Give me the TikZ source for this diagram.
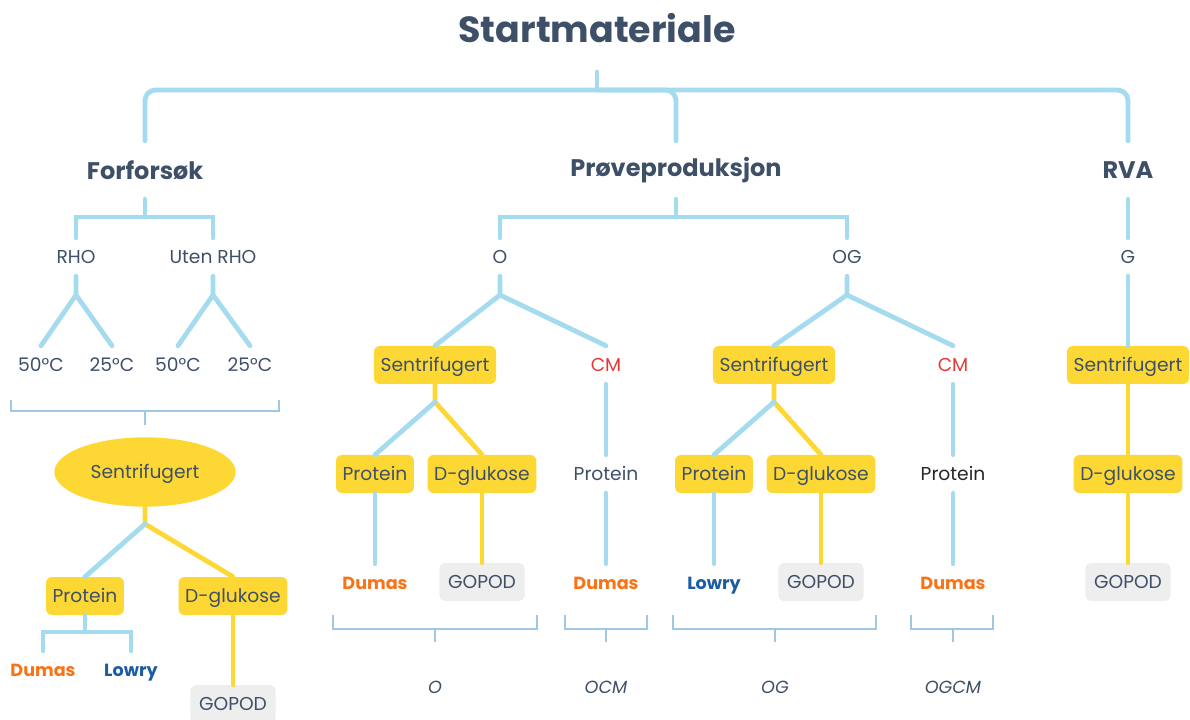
\documentclass[tikz,border=0pt]{standalone}
\usepackage{fontspec}
\setmainfont{Poppins}
\usepackage{tikz}
\usetikzlibrary{positioning,shapes.geometric}

\definecolor{inkslate}{RGB}{62, 80, 104}
\definecolor{lineblue}{RGB}{164, 219, 239}
\definecolor{brkblue}{RGB}{158, 200, 230}
\definecolor{boxyellow}{RGB}{253, 216, 53}
\definecolor{boxgray}{RGB}{238, 238, 238}
\definecolor{dumasorange}{RGB}{249, 115, 22}
\definecolor{lowryblue}{RGB}{28, 92, 160}
\definecolor{cmred}{RGB}{229, 57, 53}

\begin{document}
\begin{tikzpicture}[x=0.75pt, y=-0.75pt,
    txt/.style={font=\fontsize{14}{16}\selectfont, text=inkslate, text height=9.8pt, text depth=0pt},
    lbl/.style={txt, inner sep=0pt, minimum height=28.5pt},
    ybox/.style={txt, fill=boxyellow, rounded corners=4.5pt, inner xsep=5pt, inner ysep=0pt, minimum height=28.5pt},
    gbox/.style={ybox, fill=boxgray, inner xsep=6.5pt},
    head/.style={font=\bfseries\fontsize{18}{21}\selectfont, text=inkslate, inner sep=0pt, minimum height=43.5pt},
    meth/.style={lbl, font=\bfseries\fontsize{13.2}{15}\selectfont},
    grp/.style={lbl, font=\itshape\fontsize{13.2}{15}\selectfont},
    bline/.style={draw=lineblue, line width=3.6pt, line cap=round},
    yline/.style={draw=boxyellow, line width=3.6pt, line cap=round},
    brk/.style={draw=brkblue, line width=1.5pt}]
  \useasboundingbox (0,0) rectangle (1190,720);

  % top level
  \node[font=\bfseries\fontsize{27.3}{32}\selectfont, text=inkslate] (title) at (597,28) {Startmateriale};
  \node[head] (forf) at (145,170) {Forforsøk};
  \node[head] (prove) at (676,170) {Prøveproduksjon};
  \node[head] (rva) at (1128,170) {RVA};
  \coordinate (ts) at (597,72);
  \coordinate (tj) at (597,90);
  \draw[bline] (ts) -- (tj);
  \draw[bline, rounded corners=8pt] (forf.north) |- (tj) -| (rva.north);
  \draw[bline, rounded corners=8pt] (tj) -| (prove.north);

  % Forforsøk
  \node[lbl] (rho) at (76,257) {RHO};
  \node[lbl] (uten) at (213,257) {Uten RHO};
  \coordinate (fj) at (145,217);
  \draw[bline] (forf.south) -- (fj);
  \draw[bline] (rho.north) |- (fj) -| (uten.north);
  \node[lbl] (r50) at (41,365) {50°C};
  \node[lbl] (r25) at (112,365) {25°C};
  \node[lbl] (u50) at (178,365) {50°C};
  \node[lbl] (u25) at (250,365) {25°C};
  \coordinate (rj) at (76,295);
  \coordinate (uj) at (213,295);
  \draw[bline] (rho.south) -- (rj) -- (r50.north);
  \draw[bline] (rj) -- (r25.north);
  \draw[bline] (uten.south) -- (uj) -- (u50.north);
  \draw[bline] (uj) -- (u25.north);
  \draw[brk] (11,400) |- (279,411) -- (279,400);
  \draw[brk] (145,411) -- (145,425);
  \node[txt, ellipse, fill=boxyellow, minimum width=136pt, minimum height=52pt, inner sep=0pt] (lsent) at (145,472) {Sentrifugert};
  \node[ybox] (lprot) at (85,596) {Protein};
  \node[ybox] (lglu) at (233,596) {D-glukose};
  \coordinate (lj) at (145,524);
  \draw[yline] (lsent.south) -- (lj) -- (lglu.north);
  \draw[bline] (lj) -- (lprot.north);
  \node[meth, text=dumasorange] (ldum) at (43,670) {Dumas};
  \node[meth, text=lowryblue] (llow) at (131,670) {Lowry};
  \coordinate (lpj) at (85,632);
  \draw[bline] (lprot.south) -- (lpj);
  \draw[bline] (ldum.north) |- (lpj) -| (llow.north);
  \node[gbox] (lgop) at (233,704) {GOPOD};
  \draw[yline] (lglu.south) -- (lgop.north);

  % Prøveproduksjon
  \node[lbl] (o) at (500,257) {O};
  \node[lbl] (og) at (847,257) {OG};
  \coordinate (pj) at (676,217);
  \draw[bline] (prove.south) -- (pj);
  \draw[bline] (o.north) |- (pj) -| (og.north);

  % O
  \node[ybox] (osent) at (435,365) {Sentrifugert};
  \node[lbl, text=cmred] (ocm) at (606,365) {CM};
  \coordinate (oj) at (500,295);
  \draw[bline] (o.south) -- (oj) -- (osent.north);
  \draw[bline] (oj) -- (ocm.north);
  \node[ybox] (oprot) at (375,474) {Protein};
  \node[ybox] (oglu) at (482,474) {D-glukose};
  \coordinate (osj) at (435,402);
  \draw[yline] (osent.south) -- (osj) -- (oglu.north);
  \draw[bline] (osj) -- (oprot.north);
  \node[meth, text=dumasorange] (odum) at (375,583) {Dumas};
  \node[gbox] (ogop) at (482,582) {GOPOD};
  \draw[bline] (oprot.south) -- (odum.north);
  \draw[yline] (oglu.south) -- (ogop.north);
  \node[lbl] (ocmprot) at (606,474) {Protein};
  \node[meth, text=dumasorange] (ocmdum) at (606,583) {Dumas};
  \draw[bline] (ocm.south) -- (ocmprot.north);
  \draw[bline] (ocmprot.south) -- (ocmdum.north);

  % OG
  \node[ybox] (gsent) at (774,365) {Sentrifugert};
  \node[lbl, text=cmred] (gcm) at (953,365) {CM};
  \coordinate (gj) at (847,295);
  \draw[bline] (og.south) -- (gj) -- (gsent.north);
  \draw[bline] (gj) -- (gcm.north);
  \node[ybox] (gprot) at (714,474) {Protein};
  \node[ybox] (gglu) at (821,474) {D-glukose};
  \coordinate (gsj) at (774,402);
  \draw[yline] (gsent.south) -- (gsj) -- (gglu.north);
  \draw[bline] (gsj) -- (gprot.north);
  \node[meth, text=lowryblue] (glow) at (714,583) {Lowry};
  \node[gbox] (ggop) at (821,582) {GOPOD};
  \draw[bline] (gprot.south) -- (glow.north);
  \draw[yline] (gglu.south) -- (ggop.north);
  \node[lbl, text=black!85] (gcmprot) at (953,474) {Protein};
  \node[meth, text=dumasorange] (gcmdum) at (953,583) {Dumas};
  \draw[bline] (gcm.south) -- (gcmprot.north);
  \draw[bline] (gcmprot.south) -- (gcmdum.north);

  % RVA
  \node[lbl] (g) at (1128,257) {G};
  \node[ybox] (rsent) at (1128,365) {Sentrifugert};
  \node[ybox] (rglu) at (1128,474) {D-glukose};
  \node[gbox] (rgop) at (1128,582) {GOPOD};
  \draw[bline] (rva.south) -- (g.north);
  \draw[bline] (g.south) -- (rsent.north);
  \draw[yline] (rsent.south) -- (rglu.north);
  \draw[yline] (rglu.south) -- (rgop.north);

  % grupper
  \draw[brk] (333,615) |- (537,629) -- (537,615);
  \draw[brk] (435,629) -- (435,642);
  \draw[brk] (565,615) |- (647,629) -- (647,615);
  \draw[brk] (606,629) -- (606,642);
  \draw[brk] (673,615) |- (876,629) -- (876,615);
  \draw[brk] (775,629) -- (775,642);
  \draw[brk] (911,615) |- (993,629) -- (993,615);
  \draw[brk] (953,629) -- (953,642);
  \node[grp] (go) at (435,687) {O};
  \node[grp] (gocm) at (606,687) {OCM};
  \node[grp] (gog) at (775,687) {OG};
  \node[grp] (gogcm) at (953,687) {OGCM};
\end{tikzpicture}
\end{document}
